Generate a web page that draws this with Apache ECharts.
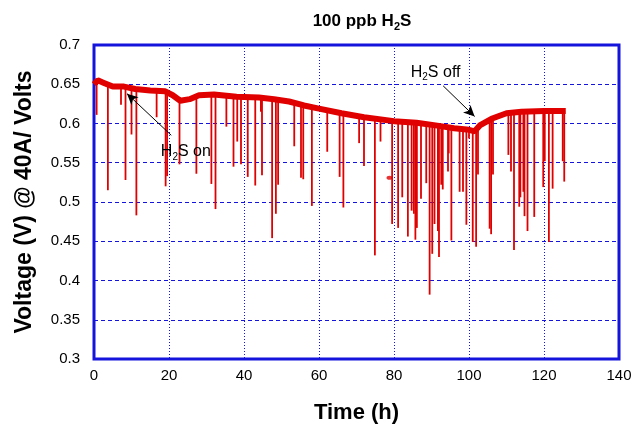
<!DOCTYPE html>
<html>
<head>
<meta charset="utf-8">
<script src="https://cdn.jsdelivr.net/npm/echarts@6/dist/echarts.min.js"></script>
<style>
  html, body { margin: 0; padding: 0; background: #fff; }
  #chart { width: 631px; height: 432px; }
</style>
</head>
<body>
<div id="chart"></div>
<script>
// baseline of the voltage trace (time in h, volts)
const baseTimes = [0, 1, 2.5, 5, 8, 11, 15, 19, 21, 23, 25.5, 28, 32, 38, 44, 48, 52, 56, 60, 66, 72, 80, 86, 92, 96, 100, 101.5, 103, 106, 110, 114, 120, 125.8];
const baseVolts = [0.650, 0.655, 0.652, 0.647, 0.647, 0.644, 0.642, 0.641, 0.636, 0.629, 0.631, 0.636, 0.637, 0.634, 0.633, 0.631, 0.628, 0.623, 0.619, 0.613, 0.608, 0.603, 0.601, 0.597, 0.594, 0.592, 0.590, 0.598, 0.606, 0.613, 0.615, 0.616, 0.616];

// downward spikes: time and lowest voltage
const spikeTimes = [0.7, 3.7, 7.2, 8.4, 10, 11.3, 16.7, 19.1, 19.5, 22.8, 27.3, 31.3, 32.4, 35.3, 37.2, 38.2, 39.2, 41, 43, 44.5, 44.8, 47.5, 48.5, 49.1, 53.4, 55.2, 55.8, 58.1, 62.2, 65.5, 66.5, 70.7, 72, 74.9, 76.4, 79.5, 81.1, 82.2, 83.7, 84.7, 85.3, 85.7, 86.1, 87.2, 88.6, 89.5, 90.2, 90.8, 91.7, 92, 92.6, 93, 94.4, 94.6, 95.3, 97.5, 98.4, 99.3, 100, 101, 101.9, 102.4, 105.5, 105.9, 106.4, 110.5, 111.2, 112, 113.4, 113.7, 114.5, 114.8, 115.6, 117.4, 119.8, 120.2, 121.3, 122.3, 125, 125.4];
const spikeLows = [0.611, 0.515, 0.624, 0.528, 0.586, 0.483, 0.608, 0.520, 0.533, 0.548, 0.536, 0.523, 0.491, 0.596, 0.545, 0.577, 0.548, 0.532, 0.521, 0.615, 0.534, 0.454, 0.485, 0.522, 0.571, 0.531, 0.529, 0.495, 0.564, 0.532, 0.493, 0.575, 0.546, 0.432, 0.577, 0.472, 0.467, 0.506, 0.456, 0.489, 0.485, 0.452, 0.467, 0.504, 0.524, 0.382, 0.434, 0.472, 0.463, 0.430, 0.522, 0.516, 0.539, 0.562, 0.451, 0.513, 0.513, 0.471, 0.581, 0.449, 0.443, 0.535, 0.466, 0.459, 0.535, 0.560, 0.539, 0.439, 0.494, 0.506, 0.513, 0.482, 0.463, 0.481, 0.519, 0.552, 0.449, 0.517, 0.552, 0.526];

// stray point near 79 h
const strayPoint = [78.8, 0.531];

const xTicks = [0, 140, 20];
const yTicks = [0.3, 0.7, 0.05];

const RED = '#e00000';
const BLUE = '#1414dc';
const FONT = "'Liberation Sans', Arial, sans-serif";

// where a spike joins the trace
function baseAt(t) {
  for (let i = 1; i < baseTimes.length; i++) {
    if (t <= baseTimes[i]) {
      const f = (t - baseTimes[i - 1]) / (baseTimes[i] - baseTimes[i - 1]);
      return baseVolts[i - 1] + f * (baseVolts[i] - baseVolts[i - 1]);
    }
  }
  return baseVolts[baseVolts.length - 1];
}

const chart = echarts.init(document.getElementById('chart'));

const sub = {
  a: { fontFamily: FONT, fontSize: 16, color: '#000', lineHeight: 20 },
  s: { fontFamily: FONT, fontSize: 10, color: '#000', lineHeight: 8, verticalAlign: 'bottom' }
};

chart.setOption({
  animation: false,
  title: {
    text: '{a|100 ppb H}{s|2}{a|S}',
    left: 357,
    top: 5,
    textAlign: 'center',
    textStyle: {
      rich: {
        a: { fontFamily: FONT, fontSize: 17, fontWeight: 'bold', color: '#000', lineHeight: 22 },
        s: { fontFamily: FONT, fontSize: 11, fontWeight: 'bold', color: '#000', lineHeight: 9, verticalAlign: 'bottom' }
      }
    }
  },
  grid: {
    left: 94, right: 12, top: 45, bottom: 73,
    outerBoundsMode: 'none',
    show: true, borderColor: BLUE, borderWidth: 3
  },
  xAxis: {
    type: 'value',
    min: xTicks[0], max: xTicks[1], interval: xTicks[2],
    name: 'Time (h)',
    nameLocation: 'middle',
    nameGap: 43,
    nameTextStyle: { fontFamily: FONT, fontSize: 22, fontWeight: 'bold', color: '#000' },
    axisLine: { show: false },
    axisTick: { show: false },
    axisLabel: { fontFamily: FONT, fontSize: 15, color: '#000', margin: 9 },
    splitLine: { lineStyle: { color: BLUE, width: 1, type: [1, 2] } }
  },
  yAxis: {
    type: 'value',
    min: yTicks[0], max: yTicks[1], interval: yTicks[2],
    name: 'Voltage (V) @ 40A/ Volts',
    nameLocation: 'middle',
    nameGap: 58,
    nameTextStyle: { fontFamily: FONT, fontSize: 23, fontWeight: 'bold', color: '#000' },
    axisLine: { show: false },
    axisTick: { show: false },
    axisLabel: {
      fontFamily: FONT, fontSize: 15, color: '#000', margin: 14,
      formatter: v => String(+v.toFixed(2))
    },
    splitLine: { lineStyle: { color: BLUE, width: 1, type: [4, 3] } }
  },
  series: [
    {
      type: 'custom',
      data: spikeTimes.map((t, i) => [t, spikeLows[i], baseAt(t)]),
      encode: { x: 0, y: [1, 2] },
      renderItem: (params, api) => {
        const lo = api.coord([api.value(0), api.value(1)]);
        const hi = api.coord([api.value(0), api.value(2)]);
        return {
          type: 'line',
          shape: { x1: lo[0], y1: lo[1], x2: hi[0], y2: hi[1] },
          style: { stroke: RED, lineWidth: 1.8 }
        };
      },
      z: 2
    },
    {
      type: 'line',
      data: baseTimes.map((t, i) => [t, baseVolts[i]]),
      showSymbol: false,
      lineStyle: { color: RED, width: 6 },
      z: 3,
      markLine: {
        silent: true,
        symbol: ['none', 'arrow'],
        symbolSize: [8, 11],
        lineStyle: { color: '#000', width: 1, type: 'solid' },
        label: { show: false },
        data: [
          [{ coord: [20.6, 0.585] }, { coord: [8.8, 0.638] }],
          [{ coord: [93.1, 0.648] }, { coord: [101.5, 0.609] }]
        ]
      },
      markPoint: {
        silent: true,
        symbol: 'circle',
        symbolSize: 0,
        label: { show: true, position: 'inside', rich: sub },
        data: [
          { coord: [24.5, 0.564], label: { formatter: '{a|H}{s|2}{a|S on}' } },
          { coord: [91.1, 0.665], label: { formatter: '{a|H}{s|2}{a|S off}' } }
        ]
      }
    },
    {
      type: 'scatter',
      data: [strayPoint],
      symbol: 'circle',
      symbolSize: [6, 4],
      itemStyle: { color: RED },
      z: 3
    }
  ]
});
</script>
</body>
</html>
